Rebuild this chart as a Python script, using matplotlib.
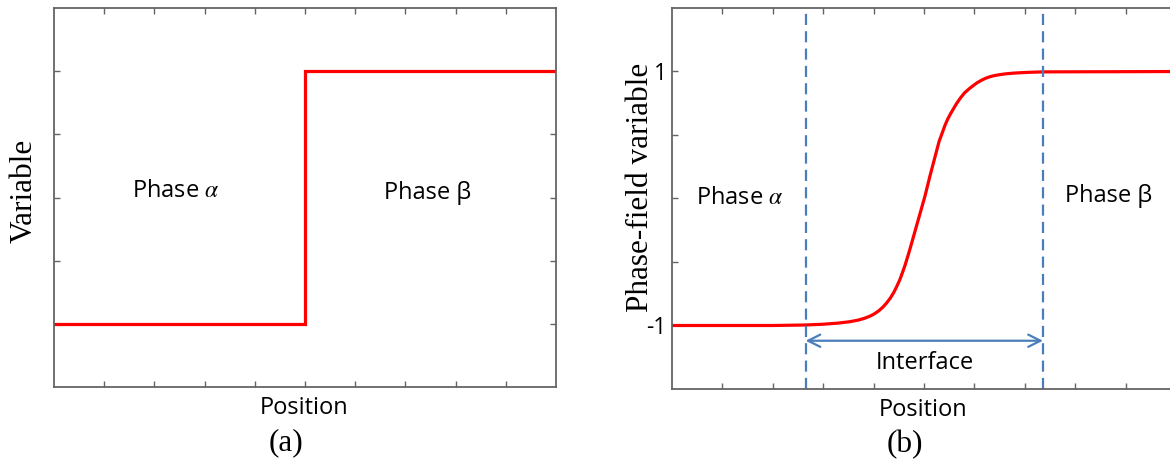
import matplotlib
matplotlib.use("Agg")
import matplotlib.pyplot as plt

plt.rcParams['mathtext.fontset'] = 'stix'

# ---- data ----
# (a) sharp interface
step_x = [0, 5, 5, 10]
step_y = [1, 1, 5, 5]
a_xticks = [1, 2, 3, 4, 5, 6, 7, 8, 9]
a_yticks = [1, 2, 3, 4, 5]

# (b) diffuse interface
pf_x = [0.0, 2.0, 2.65, 3.0, 3.3, 3.53, 3.7, 3.82, 3.93, 4.02, 4.1, 4.18,
        4.26, 4.33, 4.4, 4.46, 4.52, 4.57, 4.62, 4.67, 4.72, 4.77, 4.82,
        4.87, 4.92, 4.97, 5.02, 5.07, 5.12, 5.17, 5.22, 5.26, 5.30, 5.36,
        5.42, 5.47, 5.53, 5.59, 5.65, 5.72, 5.8, 5.89, 5.98, 6.06, 6.15,
        6.23, 6.31, 6.4, 6.5, 6.63, 6.77, 6.9, 7.05, 7.2, 7.36, 10.2]
pf_y = [-1.0, -1.0, -0.996, -0.99, -0.981, -0.97, -0.957, -0.943, -0.926,
        -0.907, -0.885, -0.857, -0.822, -0.785, -0.74, -0.692, -0.64, -0.586,
        -0.53, -0.466, -0.40, -0.33, -0.26, -0.19, -0.12, -0.05, 0.02, 0.10,
        0.18, 0.255, 0.33, 0.39, 0.45, 0.515, 0.58, 0.625, 0.67, 0.71, 0.75,
        0.79, 0.83, 0.862, 0.89, 0.913, 0.933, 0.948, 0.959, 0.968, 0.975,
        0.982, 0.987, 0.99, 0.993, 0.995, 0.997, 1.0]
b_xticks = [1, 2, 3, 4, 5, 6, 7, 8, 9]
b_yticks = [-1, -0.5, 0, 0.5, 1]
b_yticklabels = ['-1', '', '', '', '1']
interface_bounds = [2.65, 7.36]
arrow_y = -1.12

RED = '#ff0000'
BLUE = '#4a7ebb'
SPINE = '#646464'
SANS = 'Open Sans'
SERIF = 'Liberation Serif'

fig = plt.figure(figsize=(11.7, 4.67), dpi=100)
W, H = 1170.0, 467.0

def px_axes(l, t, r, b):
    return fig.add_axes([l / W, 1 - b / H, (r - l) / W, (b - t) / H])

def style(ax):
    for s in ax.spines.values():
        s.set_color(SPINE)
        s.set_linewidth(1.3)
    ax.tick_params(which='both', direction='in', length=4, width=1,
                   color=SPINE, top=True, right=True, labelsize=16.5, pad=4)

def ftext(x, y, s, **kw):
    fig.text(x / W, 1 - y / H, s, ha='center', va='center', **kw)

# ---- panel (a) ----
ax1 = px_axes(54, 8, 556, 387)
ax1.plot(step_x, step_y, color=RED, lw=2.3, solid_joinstyle='miter')
ax1.set_xlim(0, 10)
ax1.set_ylim(0, 6)
ax1.set_xticks(a_xticks)
ax1.set_yticks(a_yticks)
ax1.set_xticklabels([])
ax1.set_yticklabels([])
style(ax1)

ftext(176, 191, 'Phase $\\alpha$', family=SANS, fontsize=17)
ftext(428, 193, 'Phase β', family=SANS, fontsize=17)
ftext(304, 408, 'Position', family=SANS, fontsize=17)
ftext(24, 191, 'Variable', family=SERIF, fontsize=22.5, rotation=90)
ftext(286, 443, '(a)', family=SERIF, fontsize=22.5)

# ---- panel (b) ----
ax2 = px_axes(672, 8, 1176, 389)
ax2.plot(pf_x, pf_y, color=RED, lw=2.3, solid_joinstyle='round')
for xb in interface_bounds:
    ax2.axvline(xb, color=BLUE, lw=1.6, linestyle=(0, (5, 2.8)))
ax2.annotate('', xy=(interface_bounds[0], arrow_y), xytext=(interface_bounds[1], arrow_y),
             arrowprops=dict(arrowstyle='<->', color=BLUE, lw=1.6,
                             mutation_scale=22, shrinkA=0, shrinkB=0))
ax2.set_xlim(0, 10)
ax2.set_ylim(-1.5, 1.5)
ax2.set_xticks(b_xticks)
ax2.set_xticklabels([])
ax2.set_yticks(b_yticks)
ax2.set_yticklabels(b_yticklabels, family=SANS)
style(ax2)

ftext(740, 198, 'Phase $\\alpha$', family=SANS, fontsize=17)
ftext(1109, 196, 'Phase β', family=SANS, fontsize=17)
ftext(925, 363, 'Interface', family=SANS, fontsize=17)
ftext(923, 410, 'Position', family=SANS, fontsize=17)
ftext(640, 187, 'Phase-field variable', family=SERIF, fontsize=22.5, rotation=90)
ftext(905, 445, '(b)', family=SERIF, fontsize=22.5)

fig.savefig('out.png', dpi=100)
